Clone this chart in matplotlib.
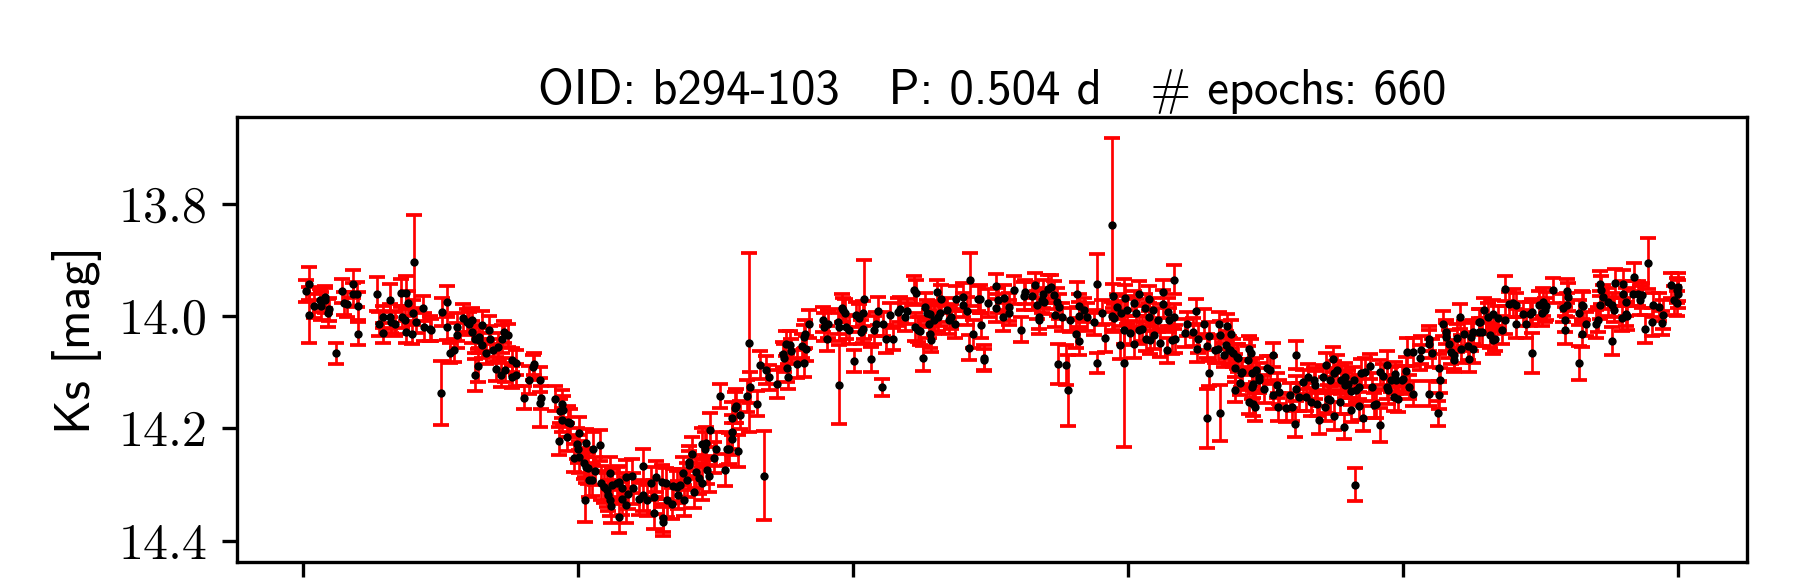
import matplotlib
matplotlib.use("Agg")
import matplotlib.pyplot as plt
from matplotlib.ticker import FormatStrFormatter
import warnings
warnings.filterwarnings("ignore")

title_text = r"OID: b294-103   P: 0.504 d   # epochs: 660"
ylabel_text = "Ks [mag]"
xticks = [0.0, 0.2, 0.4, 0.6, 0.8, 1.0]
yticks = [13.8, 14.0, 14.2, 14.4]

phase = [
    # 0.00 - 0.13
    0.004, 0.002, 0.004, 0.008, 0.012, 0.013, 0.016, 0.016, 0.018, 0.019,
    0.024, 0.028, 0.030, 0.032, 0.036, 0.036, 0.039, 0.040, 0.040, 0.054,
    0.055, 0.058, 0.058, 0.063, 0.063, 0.064, 0.067, 0.071, 0.072, 0.075,
    0.076, 0.074, 0.075, 0.079, 0.080, 0.081, 0.082, 0.087, 0.088, 0.092,
    0.093, 0.100, 0.101, 0.105, 0.105, 0.107, 0.110, 0.112, 0.112, 0.116,
    0.119, 0.121, 0.123, 0.123, 0.125, 0.127, 0.125, 0.128, 0.128,
    # 0.13 - 0.31
    0.130, 0.130, 0.133, 0.135, 0.136, 0.138, 0.140, 0.142, 0.144, 0.146,
    0.147, 0.149, 0.145, 0.152, 0.152, 0.155, 0.155, 0.161, 0.164, 0.167,
    0.168, 0.172, 0.173, 0.172, 0.183, 0.186, 0.187, 0.188, 0.188, 0.189,
    0.192, 0.193, 0.194, 0.197, 0.199, 0.200, 0.201, 0.201, 0.205, 0.204,
    0.206, 0.206, 0.207, 0.208, 0.210, 0.211, 0.212, 0.216, 0.217, 0.219,
    0.221, 0.222, 0.223, 0.223, 0.224, 0.225, 0.228, 0.230, 0.230, 0.232,
    0.232, 0.235, 0.235, 0.236, 0.239, 0.240, 0.244, 0.247, 0.247, 0.250,
    0.253, 0.255, 0.255, 0.257, 0.261, 0.262, 0.262, 0.264, 0.265, 0.268,
    0.269, 0.272, 0.273, 0.274, 0.276, 0.277, 0.279, 0.281, 0.281, 0.283,
    0.284, 0.286, 0.288, 0.290, 0.290, 0.292, 0.293, 0.294, 0.295, 0.296,
    0.299, 0.300, 0.303, 0.307, 0.308,
    # 0.31 - 0.49
    0.310, 0.312, 0.312, 0.312, 0.314, 0.315, 0.316, 0.318, 0.323, 0.324,
    0.325, 0.330, 0.332, 0.335, 0.337, 0.339, 0.345, 0.349, 0.350, 0.351,
    0.352, 0.353, 0.354, 0.355, 0.359, 0.363, 0.364, 0.364, 0.365, 0.366,
    0.368, 0.378, 0.379, 0.381, 0.382, 0.389, 0.390, 0.390, 0.392, 0.393,
    0.394, 0.395, 0.397, 0.401, 0.402, 0.404, 0.406, 0.407, 0.407, 0.408,
    0.413, 0.415, 0.417, 0.418, 0.421, 0.422, 0.424, 0.427, 0.429, 0.433,
    0.434, 0.438, 0.439, 0.444, 0.446, 0.445, 0.447, 0.449, 0.451, 0.452,
    0.454, 0.455, 0.456, 0.456, 0.457, 0.459, 0.461, 0.462, 0.463, 0.464,
    0.468, 0.470, 0.471, 0.474, 0.475, 0.480, 0.480, 0.483, 0.484, 0.485,
    0.487, 0.491,
    # 0.49 - 0.67
    0.492, 0.493, 0.495, 0.495, 0.498, 0.504, 0.504, 0.505, 0.509, 0.510,
    0.513, 0.513, 0.517, 0.522, 0.524, 0.525, 0.530, 0.532, 0.534, 0.535,
    0.535, 0.537, 0.538, 0.539, 0.542, 0.544, 0.546, 0.547, 0.548, 0.550,
    0.552, 0.549, 0.555, 0.556, 0.558, 0.562, 0.563, 0.564, 0.564, 0.564,
    0.568, 0.570, 0.575, 0.577, 0.577, 0.581, 0.583, 0.588, 0.588, 0.589,
    0.590, 0.592, 0.594, 0.595, 0.597, 0.597, 0.598, 0.599, 0.601, 0.604,
    0.604, 0.606, 0.608, 0.608, 0.610, 0.612, 0.613, 0.615, 0.615, 0.616,
    0.618, 0.619, 0.622, 0.623, 0.625, 0.625, 0.628, 0.629, 0.630, 0.632,
    0.633, 0.634, 0.633, 0.641, 0.643, 0.647, 0.649, 0.651, 0.650, 0.655,
    0.657, 0.657, 0.659, 0.659, 0.663, 0.665, 0.666, 0.667, 0.667, 0.670,
    0.671, 0.672, 0.673,
    # 0.67 - 0.86
    0.675, 0.674, 0.676, 0.678, 0.678, 0.679, 0.680, 0.681, 0.682, 0.683,
    0.687, 0.688, 0.689, 0.688, 0.690, 0.690, 0.691, 0.691, 0.692, 0.693,
    0.695, 0.695, 0.699, 0.701, 0.703, 0.705, 0.705, 0.708, 0.709, 0.710,
    0.715, 0.718, 0.719, 0.721, 0.722, 0.722, 0.724, 0.727, 0.729, 0.731,
    0.733, 0.735, 0.736, 0.737, 0.739, 0.742, 0.743, 0.744, 0.745, 0.747,
    0.747, 0.749, 0.750, 0.750, 0.752, 0.754, 0.755, 0.757, 0.758, 0.758,
    0.760, 0.762, 0.762, 0.764, 0.765, 0.766, 0.768, 0.768, 0.769, 0.771,
    0.772, 0.776, 0.777, 0.779, 0.780, 0.783, 0.783, 0.785, 0.788, 0.788,
    0.789, 0.791, 0.793, 0.794, 0.795, 0.796, 0.799, 0.800, 0.802, 0.804,
    0.803, 0.807, 0.807, 0.812, 0.813, 0.819, 0.819, 0.819, 0.821, 0.825,
    0.826, 0.827, 0.826, 0.829, 0.831, 0.831, 0.833, 0.835, 0.837, 0.837,
    0.839, 0.841, 0.842, 0.844, 0.847, 0.848, 0.849, 0.851, 0.851, 0.855,
    0.855,
    # 0.86 - 1.00
    0.856, 0.857, 0.859, 0.862, 0.863, 0.865, 0.867, 0.865, 0.869, 0.872,
    0.874, 0.874, 0.877, 0.880, 0.882, 0.882, 0.887, 0.889, 0.892, 0.894,
    0.894, 0.899, 0.901, 0.902, 0.903, 0.904, 0.909, 0.916, 0.918, 0.918,
    0.919, 0.920, 0.919, 0.928, 0.928, 0.930, 0.930, 0.931, 0.933, 0.940,
    0.942, 0.943, 0.943, 0.944, 0.945, 0.949, 0.952, 0.952, 0.953, 0.954,
    0.959, 0.960, 0.960, 0.962, 0.962, 0.963, 0.967, 0.968, 0.971, 0.972,
    0.974, 0.976, 0.978, 0.981, 0.982, 0.986, 0.988, 0.989, 0.995, 0.997,
    0.999, 1.000, 0.999, 1.000,
]

mag = [
    13.942, 13.955, 13.998, 13.982, 13.972, 13.982, 13.966, 13.972, 13.995, 13.988,
    14.066, 13.955, 13.977, 13.979, 13.942, 13.961, 13.961, 13.981, 14.031, 13.961,
    14.014, 14.001, 14.030, 13.972, 14.001, 14.010, 14.014, 13.958, 14.001, 13.958,
    13.977, 14.007, 14.028, 14.032, 13.994, 13.903, 14.010, 13.986, 14.019, 14.022,
    14.025, 14.136, 13.992, 13.974, 14.020, 14.065, 14.061, 14.019, 14.034, 14.004,
    14.010, 14.013, 14.007, 14.028, 14.040, 14.088, 14.105, 14.043, 14.037,
    14.016, 14.052, 14.066, 14.025, 14.040, 14.061, 14.094, 14.055, 14.105, 14.028,
    14.096, 14.034, 14.040, 14.078, 14.108, 14.083, 14.105, 14.145, 14.114, 14.091,
    14.085, 14.113, 14.145, 14.154, 14.147, 14.223, 14.169, 14.156, 14.185, 14.167,
    14.215, 14.188, 14.191, 14.253, 14.227, 14.236, 14.209, 14.251, 14.327, 14.262,
    14.268, 14.226, 14.271, 14.292, 14.292, 14.236, 14.275, 14.230, 14.297, 14.304,
    14.310, 14.319, 14.280, 14.328, 14.338, 14.301, 14.298, 14.357, 14.295, 14.325,
    14.307, 14.337, 14.286, 14.316, 14.285, 14.307, 14.325, 14.319, 14.267, 14.328,
    14.298, 14.351, 14.322, 14.286, 14.295, 14.360, 14.366, 14.298, 14.328, 14.334,
    14.303, 14.304, 14.319, 14.301, 14.280, 14.328, 14.292, 14.259, 14.265, 14.245,
    14.313, 14.277, 14.289, 14.298, 14.227, 14.236, 14.226, 14.274, 14.285, 14.203,
    14.252, 14.237, 14.142, 14.274, 14.236,
    14.236, 14.206, 14.219, 14.182, 14.163, 14.160, 14.240, 14.176, 14.142, 14.047,
    14.127, 14.156, 14.087, 14.284, 14.096, 14.109, 14.120, 14.068, 14.075, 14.049,
    14.093, 14.108, 14.052, 14.062, 14.085, 14.053, 14.083, 14.037, 14.031, 14.058,
    14.014, 14.006, 14.020, 14.040, 14.014, 14.010, 14.019, 14.122, 13.986, 13.989,
    13.995, 14.019, 14.025, 14.080, 13.997, 14.004, 14.028, 14.022, 13.995, 13.970,
    14.077, 14.024, 14.014, 13.991, 14.127, 14.014, 14.040, 13.998, 14.041, 13.992,
    13.988, 14.001, 13.991, 13.954, 13.958, 14.019, 14.024, 14.026, 14.075, 13.983,
    13.994, 14.014, 13.996, 14.031, 14.042, 14.007, 13.957, 14.001, 13.995, 13.970,
    13.989, 14.006, 14.001, 14.013, 13.969, 13.966, 13.980, 13.991, 14.056, 13.935,
    14.032, 13.969,
    13.969, 14.016, 14.078, 14.074, 13.977, 13.947, 13.986, 13.972, 14.001, 13.967,
    13.983, 13.994, 13.954, 14.024, 13.964, 13.957, 13.964, 13.945, 13.980, 14.001,
    14.007, 13.972, 13.960, 13.974, 13.951, 13.948, 13.963, 13.998, 13.974, 13.983,
    14.001, 14.085, 14.087, 14.132, 14.007, 14.031, 13.961, 14.044, 13.982, 14.000,
    13.989, 14.001, 14.011, 13.942, 14.084, 13.994, 14.038, 13.838, 14.000, 13.964,
    14.004, 13.983, 14.052, 13.995, 14.025, 14.083, 13.967, 13.989, 14.030, 14.050,
    13.977, 13.994, 13.960, 14.025, 14.022, 13.986, 14.040, 14.001, 13.969, 14.043,
    13.989, 14.034, 14.007, 14.047, 13.957, 13.979, 14.061, 13.992, 14.007, 14.042,
    13.935, 14.040, 14.001, 14.030, 14.014, 14.028, 13.991, 14.040, 14.059, 14.013,
    14.053, 14.182, 14.102, 14.036, 14.061, 14.058, 14.014, 14.173, 14.034, 14.069,
    14.052, 14.018, 14.061,
    14.031, 14.061, 14.066, 14.131, 14.093, 14.072, 14.075, 14.119, 14.102, 14.099,
    14.078, 14.058, 14.066, 14.153, 14.102, 14.126, 14.120, 14.156, 14.161, 14.096,
    14.108, 14.114, 14.129, 14.093, 14.096, 14.069, 14.141, 14.123, 14.161, 14.135,
    14.164, 14.141, 14.161, 14.192, 14.069, 14.129, 14.144, 14.117, 14.144, 14.108,
    14.153, 14.114, 14.123, 14.156, 14.185, 14.109, 14.161, 14.087, 14.147, 14.114,
    14.150, 14.077, 14.178, 14.102, 14.095, 14.153, 14.114, 14.197, 14.108, 14.123,
    14.120, 14.167, 14.133, 14.113, 14.300, 14.131, 14.160, 14.126, 14.102, 14.182,
    14.099, 14.089, 14.126, 14.159, 14.156, 14.100, 14.194, 14.107, 14.087, 14.126,
    14.132, 14.113, 14.144, 14.103, 14.114, 14.148, 14.114, 14.111, 14.097, 14.126,
    14.064, 14.138, 14.064, 14.074, 14.061, 14.040, 14.050, 14.138, 14.065, 14.173,
    14.141, 14.114, 14.093, 14.013, 14.037, 14.028, 14.049, 14.064, 14.069, 14.078,
    14.038, 14.001, 14.058, 14.031, 14.053, 14.077, 14.037, 14.028, 14.059, 14.010,
    14.028,
    14.010, 14.028, 13.989, 14.001, 14.034, 14.043, 14.040, 13.996, 14.004, 14.025,
    13.951, 14.007, 13.979, 13.976, 13.980, 14.013, 13.996, 14.014, 13.996, 14.066,
    13.992, 13.980, 13.995, 13.974, 13.989, 13.982, 13.954, 13.986, 14.006, 14.025,
    13.955, 13.966, 13.980, 14.083, 13.994, 13.980, 14.032, 13.982, 14.014, 14.014,
    14.006, 13.980, 13.942, 13.954, 13.966, 13.974, 13.980, 14.044, 13.989, 13.941,
    14.004, 13.943, 13.960, 13.974, 13.996, 14.000, 13.960, 13.930, 13.960, 13.972,
    13.963, 14.023, 13.906, 14.011, 13.980, 13.983, 14.012, 13.997, 13.945, 13.972,
    13.954, 13.961, 13.977, 13.948,
]

err = [
    0.030, 0.020, 0.050, 0.022, 0.020, 0.025, 0.020, 0.022, 0.025, 0.020,
    0.019, 0.022, 0.020, 0.022, 0.025, 0.020, 0.022, 0.025, 0.020, 0.030,
    0.022, 0.020, 0.018, 0.030, 0.022, 0.020, 0.022, 0.025, 0.020, 0.030,
    0.022, 0.025, 0.020, 0.018, 0.022, 0.083, 0.020, 0.022, 0.025, 0.022,
    0.020, 0.057, 0.025, 0.028, 0.022, 0.018, 0.020, 0.025, 0.022, 0.025,
    0.022, 0.020, 0.022, 0.020, 0.025, 0.030, 0.028, 0.022, 0.020,
    0.025, 0.022, 0.020, 0.025, 0.022, 0.020, 0.022, 0.025, 0.022, 0.020,
    0.022, 0.020, 0.025, 0.022, 0.020, 0.022, 0.020, 0.020, 0.025, 0.022,
    0.020, 0.022, 0.020, 0.044, 0.022, 0.025, 0.022, 0.025, 0.022, 0.025,
    0.025, 0.028, 0.025, 0.025, 0.028, 0.025, 0.030, 0.028, 0.040, 0.028,
    0.030, 0.025, 0.028, 0.030, 0.028, 0.030, 0.025, 0.028, 0.030, 0.028,
    0.030, 0.028, 0.030, 0.028, 0.030, 0.028, 0.030, 0.030, 0.028, 0.030,
    0.028, 0.032, 0.030, 0.028, 0.030, 0.028, 0.030, 0.028, 0.030, 0.028,
    0.030, 0.028, 0.030, 0.028, 0.030, 0.025, 0.026, 0.028, 0.030, 0.028,
    0.030, 0.028, 0.025, 0.028, 0.030, 0.028, 0.030, 0.028, 0.025, 0.030,
    0.028, 0.030, 0.028, 0.030, 0.028, 0.030, 0.028, 0.025, 0.028, 0.030,
    0.028, 0.030, 0.022, 0.028, 0.030,
    0.028, 0.030, 0.028, 0.030, 0.028, 0.030, 0.028, 0.025, 0.028, 0.160,
    0.028, 0.022, 0.025, 0.080, 0.025, 0.022, 0.025, 0.022, 0.025, 0.022,
    0.025, 0.022, 0.025, 0.022, 0.025, 0.022, 0.025, 0.022, 0.025, 0.022,
    0.025, 0.022, 0.025, 0.022, 0.025, 0.022, 0.025, 0.070, 0.025, 0.022,
    0.025, 0.022, 0.025, 0.020, 0.022, 0.025, 0.022, 0.025, 0.022, 0.070,
    0.022, 0.025, 0.022, 0.025, 0.015, 0.022, 0.025, 0.022, 0.020, 0.025,
    0.022, 0.025, 0.022, 0.025, 0.022, 0.025, 0.022, 0.025, 0.022, 0.025,
    0.022, 0.025, 0.022, 0.025, 0.022, 0.025, 0.022, 0.025, 0.022, 0.025,
    0.022, 0.025, 0.022, 0.025, 0.022, 0.025, 0.022, 0.025, 0.022, 0.047,
    0.025, 0.022,
    0.025, 0.022, 0.020, 0.022, 0.025, 0.022, 0.025, 0.022, 0.025, 0.022,
    0.025, 0.022, 0.025, 0.022, 0.025, 0.022, 0.025, 0.022, 0.025, 0.022,
    0.025, 0.022, 0.025, 0.022, 0.025, 0.022, 0.025, 0.022, 0.025, 0.022,
    0.025, 0.035, 0.035, 0.063, 0.022, 0.025, 0.022, 0.025, 0.022, 0.025,
    0.022, 0.025, 0.022, 0.052, 0.018, 0.022, 0.025, 0.155, 0.025, 0.022,
    0.025, 0.022, 0.025, 0.022, 0.025, 0.150, 0.022, 0.025, 0.022, 0.025,
    0.022, 0.025, 0.022, 0.025, 0.022, 0.025, 0.022, 0.025, 0.022, 0.025,
    0.022, 0.025, 0.022, 0.025, 0.022, 0.025, 0.022, 0.025, 0.022, 0.025,
    0.026, 0.025, 0.022, 0.025, 0.022, 0.025, 0.022, 0.025, 0.022, 0.025,
    0.022, 0.052, 0.022, 0.025, 0.022, 0.025, 0.022, 0.050, 0.025, 0.022,
    0.025, 0.022, 0.025,
    0.025, 0.022, 0.025, 0.022, 0.025, 0.022, 0.025, 0.022, 0.025, 0.022,
    0.025, 0.022, 0.025, 0.022, 0.025, 0.022, 0.025, 0.022, 0.025, 0.022,
    0.025, 0.022, 0.025, 0.022, 0.025, 0.022, 0.025, 0.022, 0.025, 0.022,
    0.025, 0.022, 0.025, 0.023, 0.025, 0.022, 0.025, 0.022, 0.025, 0.022,
    0.025, 0.022, 0.025, 0.022, 0.025, 0.022, 0.025, 0.022, 0.025, 0.022,
    0.025, 0.022, 0.025, 0.022, 0.025, 0.022, 0.025, 0.022, 0.025, 0.022,
    0.025, 0.022, 0.025, 0.022, 0.030, 0.022, 0.025, 0.022, 0.025, 0.022,
    0.025, 0.022, 0.025, 0.022, 0.025, 0.022, 0.030, 0.022, 0.025, 0.022,
    0.025, 0.022, 0.025, 0.022, 0.025, 0.022, 0.025, 0.022, 0.025, 0.022,
    0.025, 0.022, 0.025, 0.022, 0.025, 0.022, 0.025, 0.022, 0.025, 0.022,
    0.025, 0.022, 0.025, 0.022, 0.025, 0.022, 0.025, 0.022, 0.025, 0.022,
    0.025, 0.022, 0.025, 0.022, 0.025, 0.022, 0.025, 0.022, 0.025, 0.022,
    0.025,
    0.022, 0.025, 0.022, 0.025, 0.022, 0.025, 0.022, 0.025, 0.022, 0.025,
    0.022, 0.025, 0.022, 0.025, 0.022, 0.025, 0.022, 0.025, 0.022, 0.036,
    0.022, 0.025, 0.022, 0.025, 0.022, 0.025, 0.022, 0.025, 0.022, 0.025,
    0.022, 0.025, 0.022, 0.030, 0.022, 0.025, 0.022, 0.025, 0.022, 0.025,
    0.022, 0.025, 0.022, 0.025, 0.022, 0.025, 0.022, 0.025, 0.022, 0.025,
    0.022, 0.025, 0.022, 0.025, 0.022, 0.025, 0.022, 0.025, 0.022, 0.025,
    0.022, 0.025, 0.045, 0.025, 0.022, 0.025, 0.022, 0.025, 0.022, 0.025,
    0.022, 0.025, 0.022, 0.025,
]

n = min(len(phase), len(mag), len(err))
phase, mag, err = phase[:n], mag[:n], err[:n]

fig = plt.figure(figsize=(6.0, 578 / 300), dpi=300)
ax = fig.add_axes([237 / 1800, 1 - 562 / 578, (1747 - 237) / 1800, (562 - 117) / 578])

eb = ax.errorbar(phase, mag, yerr=err, fmt="o", color="black", markersize=2.0,
                 ecolor="red", elinewidth=0.65, capsize=2.0, capthick=0.9)
eb[0].set_markeredgewidth(0)

ax.set_xlim(-0.048, 1.05)
ax.set_ylim(14.438, 13.645)
ax.set_xticks(xticks)
ax.set_yticks(yticks)
ax.tick_params(axis="x", labelbottom=False)
ax.yaxis.set_major_formatter(FormatStrFormatter("%.1f"))
for lab in ax.get_yticklabels():
    lab.set_fontfamily("cmr10")
    lab.set_fontsize(12)

ax.set_ylabel(ylabel_text, fontfamily="cmss10", fontsize=12)
ax.set_title(title_text, fontfamily="cmss10", fontsize=11.7, pad=3)

fig.savefig("out.png", dpi=300)
